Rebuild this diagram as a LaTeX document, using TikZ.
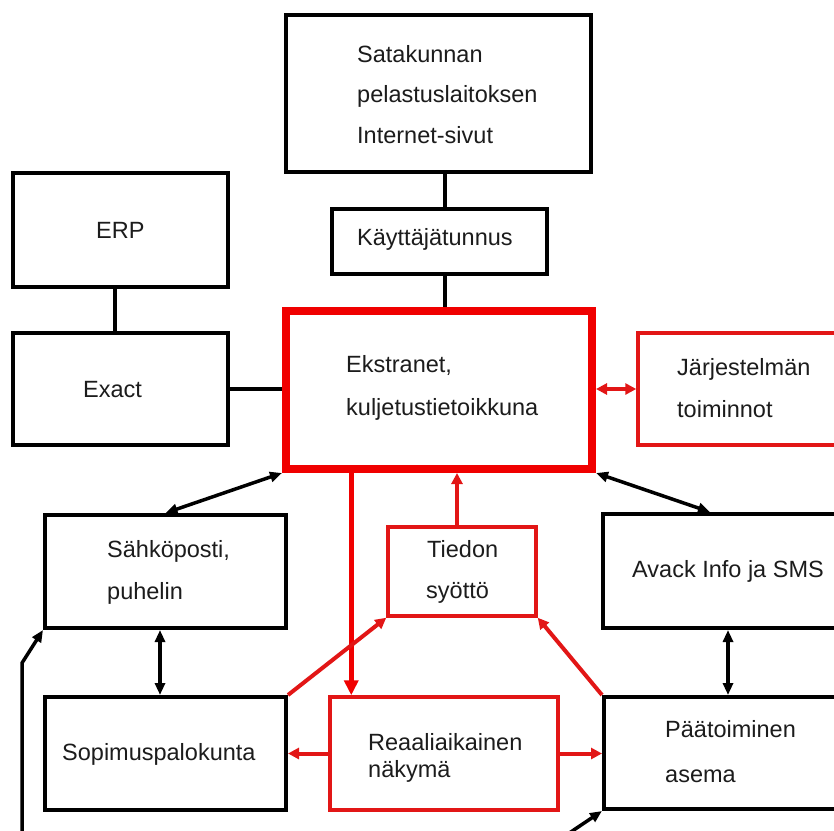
\documentclass[tikz,border=0pt]{standalone}
\usepackage{fontspec}
\setmainfont{Liberation Sans}
\usetikzlibrary{arrows.meta,calc}
\definecolor{boxred}{RGB}{226,22,22}
\definecolor{hotred}{RGB}{240,0,0}
\definecolor{ink}{RGB}{28,28,28}
\newcommand{\lbl}{\fontsize{23.5}{28}\selectfont}
\tikzset{
  box/.style={draw=black, line width=4pt, inner sep=0pt, rectangle},
  redbox/.style={draw=boxred, line width=3.5pt, inner sep=0pt, rectangle},
  mainbox/.style={draw=hotred, line width=8pt, inner sep=0pt, rectangle},
  txt/.style={anchor=base west, inner sep=0pt, font=\lbl, text=ink},
  link/.style={draw=black, line width=3.5pt},
  blink/.style={link, {Triangle[length=12pt,width=10pt]}-{Triangle[length=12pt,width=10pt]}},
  barrow/.style={link, -{Triangle[length=12pt,width=10pt]}},
  rlink/.style={draw=boxred, line width=4pt, -{Triangle[length=11pt,width=11pt]}},
  rblink/.style={draw=boxred, line width=4pt, {Triangle[length=11pt,width=11pt]}-{Triangle[length=11pt,width=11pt]}},
}
\begin{document}
\begin{tikzpicture}[x=1pt,y=-1pt]
\useasboundingbox (0,0) rectangle (834,830);
\clip (0,0) rectangle (834,830);
\fill[white] (0,0) rectangle (834,830);

% boxes
\node[box, minimum width=305pt, minimum height=157pt] (sata) at (438.5,93.5) {};
\node[box, minimum width=215pt, minimum height=65pt] (kay) at (439.5,241.5) {};
\node[box, minimum width=215pt, minimum height=114pt] (erp) at (120.5,230) {};
\node[box, minimum width=215pt, minimum height=112pt] (exact) at (120.5,389) {};
\node[mainbox, minimum width=306pt, minimum height=158pt] (ekstra) at (439,390) {};
\node[redbox, minimum width=262pt, minimum height=112pt] (jarj) at (769,389) {};
\node[box, minimum width=241pt, minimum height=113pt] (sahko) at (165.5,571.5) {};
\node[box, minimum width=241pt, minimum height=113pt] (sopi) at (165.5,753.5) {};
\node[redbox, minimum width=148pt, minimum height=89pt] (tied) at (462,571.5) {};
\node[redbox, minimum width=228pt, minimum height=113pt] (reaal) at (444,753.5) {};
\node[box, minimum width=297pt, minimum height=114pt] (avack) at (751.5,571) {};
\node[box, minimum width=296pt, minimum height=112pt] (paat) at (752,753) {};

% labels
\node[txt] (t1a) at (357,62) {Satakunnan};
\node[txt] (t1b) at (357,102) {pelastuslaitoksen};
\node[txt] (t1c) at (357,143) {Internet-sivut};
\node[txt] (t2) at (357,245) {Käyttäjätunnus};
\node[txt] (t3) at (96,238) {ERP};
\node[txt] (t4) at (83,397) {Exact};
\node[txt] (t5a) at (346,372) {Ekstranet,};
\node[txt] (t5b) at (346,415) {kuljetustietoikkuna};
\node[txt] (t6a) at (677,375) {Järjestelmän};
\node[txt] (t6b) at (677,417) {toiminnot};
\node[txt] (t7a) at (107,557) {Sähköposti,};
\node[txt] (t7b) at (107,599) {puhelin};
\node[txt] (t8a) at (427,557) {Tiedon};
\node[txt] (t8b) at (426,598) {syöttö};
\node[txt] (t9) at (632,577) {Avack Info ja SMS};
\node[txt] (t10) at (62,760) {Sopimuspalokunta};
\node[txt] (t11a) at (368,750) {Reaaliaikainen};
\node[txt] (t11b) at (368,777) {näkymä};
\node[txt] (t12a) at (665,737) {Päätoiminen};
\node[txt] (t12b) at (665,782) {asema};

% plain links
\draw[link] ([xshift=6.5pt]sata.south) -- ([xshift=5.5pt]kay.north);
\draw[link] ([xshift=5.5pt]kay.south) -- ([xshift=6pt]ekstra.north);
\draw[link] ([xshift=-5.5pt]erp.south) -- ([xshift=-5.5pt]exact.north);
\draw[link] (exact.east) -- (exact.east -| ekstra.west);

% black two-way arrows
\draw[blink] (ekstra.south west) -- (sahko.north);
\draw[blink] (ekstra.south east) -- ([xshift=109pt]avack.north west);
\draw[blink] ([xshift=-5.5pt]sahko.south) -- ([xshift=-5.5pt]sopi.north);
\draw[blink] ([xshift=127pt]avack.south west) -- ([xshift=126pt]paat.north west);

% red links
\draw[rblink] (ekstra.east |- jarj.west) -- (jarj.west);
\draw[draw=hotred, line width=5pt, -{Triangle[length=15pt,width=14pt]}]
  ([xshift=23pt]reaal.north west |- ekstra.south) -- ([xshift=23pt]reaal.north west);
\draw[rlink] ([xshift=-5pt]tied.north) -- ([xshift=-5pt]tied.north |- ekstra.south);
\draw[rlink] (reaal.west) -- (reaal.west -| sopi.east);
\draw[rlink] (reaal.east) -- (reaal.east -| paat.west);
\draw[rlink] (sopi.north east) -- (tied.south west);
\draw[rlink] (paat.north west) -- (tied.south east);

% return lines from below
\coordinate (lowL) at (22,850);
\coordinate (bendL) at (22,663);
\coordinate (lowR) at (544,850);
\draw[barrow] (lowL) -- (bendL) -- (sahko.south west);
\draw[barrow] (lowR) -- (paat.south west);
\end{tikzpicture}
\end{document}
